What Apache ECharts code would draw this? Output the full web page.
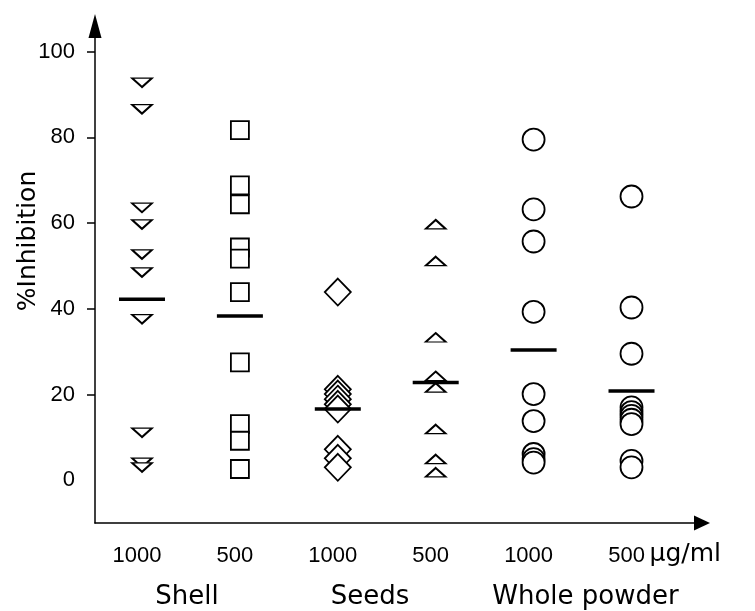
<!DOCTYPE html>
<html><head><meta charset="utf-8">
<script src="https://cdn.jsdelivr.net/npm/echarts@6/dist/echarts.min.js"></script>
<style>html,body{margin:0;padding:0;background:#fff}#c{width:755px;height:611px}</style>
</head><body><div id="c"></div>
<script>
// ---- data ----
const doseLabels = ['1000', '500', '1000', '500', '1000', '500'];
const groupNames = ['Shell', 'Seeds', 'Whole powder'];
const unitLabel = 'µg/ml';
const yAxisTitle = '%Inhibition';
const yTickLabels = [0, 20, 40, 60, 80, 100];
const yTickMarks = [20, 40, 60, 80, 100];

const shell1000 = [92.8, 86.6, 63.6, 59.7, 52.7, 48.5, 37.6, 11.1, 4.1, 3.0];
const shell500 = [81.7, 68.8, 64.4, 54.3, 51.7, 43.9, 27.5, 13.1, 9.2, 2.6];
const seeds1000 = [43.9, 21.2, 20.1, 18.9, 17.7, 16.6, 7.2, 5.1, 3.0];
const seeds500 = [59.7, 51.1, 33.3, 24.3, 21.6, 11.9, 4.9, 1.8];
const whole1000 = [79.5, 63.2, 55.7, 39.3, 20.1, 13.8, 6.1, 4.9, 4.1];
const whole500 = [66.2, 40.3, 29.5, 17.0, 15.9, 15.0, 14.1, 13.1, 4.5, 3.0];
const groupMeans = [42.2, 38.3, 16.6, 22.8, 30.4, 20.8];

// ---- chart ----
const FONT = 'DejaVu Sans';
const NUMFONT = 'Liberation Sans';
const chart = echarts.init(document.getElementById('c'), null, {renderer: 'canvas'});
const hollow = {color: '#fff', borderColor: '#000', borderWidth: 1.8, opacity: 1};
function pts(arr, i) { return arr.map(v => [i, v]); }
function sc(arr, i, symbol, size, rot) {
  return {type: 'scatter', data: pts(arr, i), symbol: symbol, symbolSize: size,
    symbolRotate: rot || 0, itemStyle: hollow, z: 2, silent: true};
}
const option = {
  animation: false,
  backgroundColor: '#fff',
  grid: {left: 95, right: 53, top: 26, bottom: 88, containLabel: false},
  xAxis: {
    type: 'value', min: -0.48, max: 5.72,
    splitLine: {show: false},
    axisLine: {show: true, onZero: false, lineStyle: {color: '#000', width: 1.5},
      symbol: ['none', 'triangle'], symbolSize: [15, 16]},
    axisTick: {show: false},
    axisLabel: {customValues: [0, 1, 2, 3, 4, 5], formatter: v => doseLabels[Math.round(v)],
      color: '#000', fontFamily: NUMFONT, fontSize: 22, margin: 22, padding: [0, 10, 0, 0]}
  },
  yAxis: {
    type: 'value', min: -10, max: 106,
    splitLine: {show: false},
    axisLine: {show: true, onZero: false, lineStyle: {color: '#000', width: 1.5},
      symbol: ['none', 'triangle'], symbolSize: [13, 24]},
    axisTick: {show: true, customValues: yTickMarks, length: 8, lineStyle: {color: '#000', width: 1.5}},
    axisLabel: {customValues: yTickLabels, color: '#000', fontFamily: NUMFONT, fontSize: 22, margin: 20}
  },
  series: [
    sc(shell1000, 0, 'triangle', [20, 9], 180),
    sc(shell500, 1, 'rect', [18, 18]),
    sc(seeds1000, 2, 'diamond', [26, 27]),
    sc(seeds500, 3, 'triangle', [20, 9]),
    sc(whole1000, 4, 'circle', 22),
    sc(whole500, 5, 'circle', 22),
    {type: 'scatter', data: groupMeans.map((v, i) => [i, v]), symbol: 'rect', symbolSize: [46, 3.5],
      itemStyle: {color: '#000', opacity: 1}, z: 3, silent: true}
  ]
};
chart.setOption(option);

const groupShift = [-0.04, -0.17, 0.03];
const graphics = [];
groupNames.forEach((g, k) => {
  const p = chart.convertToPixel({xAxisIndex: 0, yAxisIndex: 0}, [2 * k + 0.5 + groupShift[k], 0]);
  graphics.push({type: 'text', x: p[0], y: 597, style: {text: g, fill: '#000',
    font: '26px "' + FONT + '"', textAlign: 'center', textVerticalAlign: 'middle'}});
});
const pu = chart.convertToPixel({xAxisIndex: 0, yAxisIndex: 0}, [5, 0]);
graphics.push({type: 'text', x: pu[0] + 18, y: 554, style: {text: unitLabel, fill: '#000',
  font: '25px "' + FONT + '"', textAlign: 'left', textVerticalAlign: 'middle'}});
graphics.push({type: 'text', x: 28, y: 241, rotation: Math.PI / 2, style: {text: yAxisTitle, fill: '#000',
  font: '25px "' + FONT + '"', textAlign: 'center', textVerticalAlign: 'middle'}});
chart.setOption({graphic: graphics});
</script>
</body></html>
